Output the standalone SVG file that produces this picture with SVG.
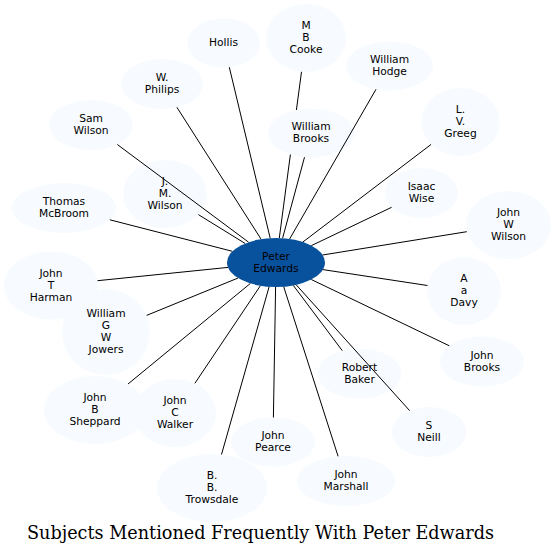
<svg xmlns="http://www.w3.org/2000/svg" width="555" height="557" viewBox="0 0 555 557">
<style>
.n ellipse{fill:#f7fbff;stroke:none}
.c ellipse{fill:#08519c;stroke:none}
text{font-family:"DejaVu Sans","Noto Sans",sans-serif;font-size:10.7px;fill:#000;text-anchor:middle}
.e line,.e path{stroke:#000;stroke-width:1;fill:none}
.title{font-family:"DejaVu Serif","Liberation Serif",serif;font-size:18px}
</style>
<rect width="555" height="557" fill="#fff"/>
<g id="nodes">
<g id="hollis" class="n"><ellipse cx="223.5" cy="43" rx="36.5" ry="24.5"/><text x="223.5" y="46.4">Hollis</text></g>
<g id="mbcooke" class="n"><ellipse cx="306" cy="38" rx="40" ry="34"/><text x="306" y="29.4">M</text><text x="306" y="41.4">B</text><text x="306" y="53.4">Cooke</text></g>
<g id="whodge" class="n"><ellipse cx="389.5" cy="66" rx="43.5" ry="24.5"/><text x="389.5" y="63.4">William</text><text x="389.5" y="75.4">Hodge</text></g>
<g id="wphilips" class="n"><ellipse cx="162" cy="84" rx="41" ry="25"/><text x="162" y="81.4">W.</text><text x="162" y="93.4">Philips</text></g>
<g id="lvgreeg" class="n"><ellipse cx="460.5" cy="122" rx="39" ry="34"/><text x="460.5" y="113.4">L.</text><text x="460.5" y="125.4">V.</text><text x="460.5" y="137.4">Greeg</text></g>
<g id="samwilson" class="n"><ellipse cx="91" cy="125" rx="42" ry="25"/><text x="91" y="122.4">Sam</text><text x="91" y="134.4">Wilson</text></g>
<g id="wbrooks" class="n"><ellipse cx="311" cy="133" rx="43" ry="24.5"/><text x="311" y="130.4">William</text><text x="311" y="142.4">Brooks</text></g>
<g id="isaacwise" class="n"><ellipse cx="421.5" cy="193" rx="36.5" ry="25"/><text x="421.5" y="190.4">Isaac</text><text x="421.5" y="202.4">Wise</text></g>
<g id="jmwilson" class="n"><ellipse cx="165" cy="194" rx="42" ry="34"/><text x="165" y="185.4">J.</text><text x="165" y="197.4">M.</text><text x="165" y="209.4">Wilson</text></g>
<g id="mcbroom" class="n"><ellipse cx="64" cy="208" rx="52" ry="25"/><text x="64" y="205.4">Thomas</text><text x="64" y="217.4">McBroom</text></g>
<g id="jwwilson" class="n"><ellipse cx="508.5" cy="225" rx="42.5" ry="34"/><text x="508.5" y="216.4">John</text><text x="508.5" y="228.4">W</text><text x="508.5" y="240.4">Wilson</text></g>
<g id="jtharman" class="n"><ellipse cx="51" cy="285.5" rx="47" ry="34"/><text x="51" y="276.9">John</text><text x="51" y="288.9">T</text><text x="51" y="300.9">Harman</text></g>
<g id="aadavy" class="n"><ellipse cx="464" cy="291" rx="37" ry="34"/><text x="464" y="281.9">A</text><text x="464" y="293.9">a</text><text x="464" y="305.9">Davy</text></g>
<g id="jowers" class="n"><ellipse cx="106" cy="332" rx="44" ry="43"/><text x="106" y="317.4">William</text><text x="106" y="329.4">G</text><text x="106" y="341.4">W</text><text x="106" y="353.4">Jowers</text></g>
<g id="jbrooks" class="n"><ellipse cx="482" cy="361.5" rx="42" ry="25"/><text x="482" y="358.9">John</text><text x="482" y="370.9">Brooks</text></g>
<g id="rbaker" class="n"><ellipse cx="359.5" cy="373.5" rx="42" ry="25"/><text x="359.5" y="370.9">Robert</text><text x="359.5" y="382.9">Baker</text></g>
<g id="sheppard" class="n"><ellipse cx="95" cy="410" rx="51" ry="34"/><text x="95" y="401.4">John</text><text x="95" y="413.4">B</text><text x="95" y="425.4">Sheppard</text></g>
<g id="walker" class="n"><ellipse cx="175" cy="413" rx="41" ry="34"/><text x="175" y="404.4">John</text><text x="175" y="416.4">C</text><text x="175" y="428.4">Walker</text></g>
<g id="sneill" class="n"><ellipse cx="429" cy="432" rx="37" ry="25"/><text x="429" y="428.9">S</text><text x="429" y="440.9">Neill</text></g>
<g id="pearce" class="n"><ellipse cx="273" cy="442" rx="42" ry="24.5"/><text x="273" y="439.4">John</text><text x="273" y="451.4">Pearce</text></g>
<g id="marshall" class="n"><ellipse cx="346" cy="481" rx="49" ry="25"/><text x="346" y="478.4">John</text><text x="346" y="490.4">Marshall</text></g>
<g id="trowsdale" class="n"><ellipse cx="212" cy="488" rx="55" ry="34"/><text x="212" y="479.4">B.</text><text x="212" y="491.4">B.</text><text x="212" y="503.4">Trowsdale</text></g>
<g id="peteredwards" class="c"><ellipse cx="276" cy="262.5" rx="49" ry="24.5"/><text x="276" y="259.9">Peter</text><text x="276" y="271.9">Edwards</text></g>
</g>
<g id="connectors" class="e">
<line x1="270.2" y1="238.2" x2="229.3" y2="67.2"/>
<path d="M279.3,238 L290.4,154.5 M296.4,110 L301.5,71.8"/>
<line x1="282.6" y1="238.2" x2="304.5" y2="157.2"/>
<line x1="289.6" y1="239" x2="376" y2="89.3"/>
<line x1="302.9" y1="242" x2="431.1" y2="144.4"/>
<line x1="311.4" y1="245.6" x2="391.6" y2="207.3"/>
<line x1="322.6" y1="255" x2="466.8" y2="231.7"/>
<line x1="322.9" y1="269.6" x2="427.5" y2="285.5"/>
<line x1="311.3" y1="279.5" x2="449.3" y2="345.8"/>
<line x1="296.2" y1="284.8" x2="409.7" y2="410.7"/>
<line x1="293.3" y1="285.4" x2="342.3" y2="350.7"/>
<line x1="283.7" y1="286.7" x2="338.1" y2="456.3"/>
<line x1="275.6" y1="287" x2="273.4" y2="417.5"/>
<line x1="269.1" y1="286.8" x2="221.5" y2="454.5"/>
<line x1="260.4" y1="285.7" x2="194.9" y2="383.3"/>
<line x1="250.4" y1="283.4" x2="128" y2="384"/>
<line x1="238.1" y1="278" x2="146.6" y2="315.4"/>
<line x1="228" y1="267.4" x2="97.5" y2="280.7"/>
<line x1="232.4" y1="251.3" x2="109.9" y2="219.8"/>
<line x1="245.2" y1="243.5" x2="198.4" y2="214.6"/>
<line x1="248.6" y1="242.2" x2="117.3" y2="144.5"/>
<line x1="261.1" y1="239.2" x2="176.9" y2="107.3"/>
</g>
<text class="title" x="260.5" y="539" textLength="467" lengthAdjust="spacingAndGlyphs">Subjects Mentioned Frequently With Peter Edwards</text>
</svg>
